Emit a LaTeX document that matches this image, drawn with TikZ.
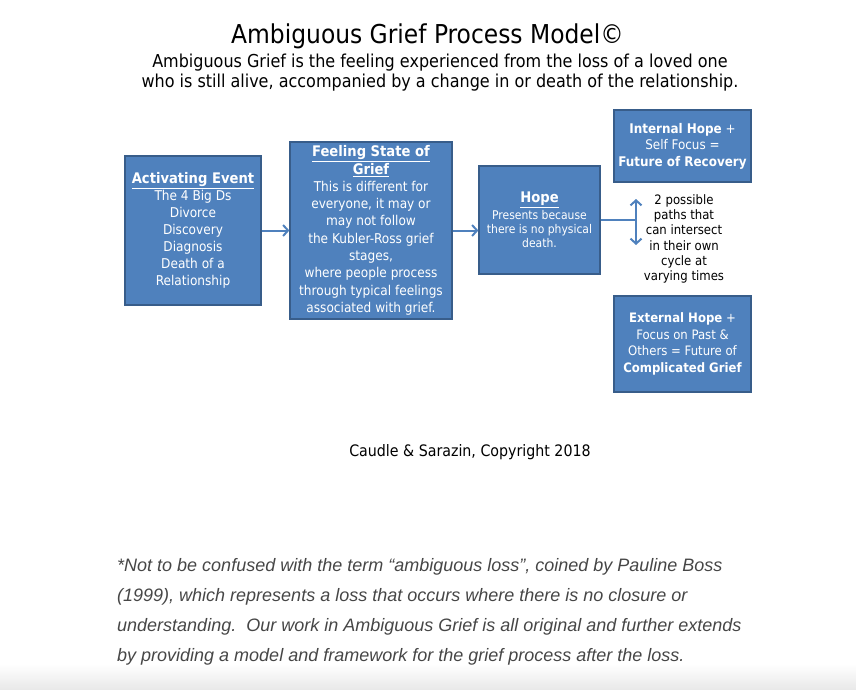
\documentclass[tikz,border=0pt]{standalone}
\usepackage{fontspec}
\setmainfont{DejaVu Sans Condensed}
\newfontfamily\notefont{Liberation Sans}
\usetikzlibrary{arrows.meta,positioning}
\definecolor{boxblue}{RGB}{79,129,189}
\definecolor{boxedge}{RGB}{56,93,138}
\definecolor{notegray}{RGB}{70,70,70}
\tikzset{
  gbox/.style={draw=boxedge, line width=1.2pt, fill=boxblue, text=white, align=center, inner sep=1pt},
  garrow/.style={draw=boxblue, line width=2pt, -{Straight Barb[length=5pt,width=11pt]}},
  boxtxt/.style={font=\fontsize{13.5}{17}\selectfont},
}
\newcommand{\hd}[1]{{\fontsize{14.6}{17}\selectfont\bfseries\underline{#1}}}

\begin{document}
\begin{tikzpicture}[x=1pt, y=-1pt]
\useasboundingbox (0,0) rectangle (856,690);
\shade[top color=white, bottom color=black!9] (0,664) rectangle (856,690);

%----- titolo -----
\node[font=\fontsize{26}{30}\selectfont] (title) at (427.5,36) {Ambiguous Grief Process Model\textcopyright};
\node[font=\fontsize{17.8}{20}\selectfont, align=center] (sub) at (440,73)
  {Ambiguous Grief is the feeling experienced from the loss of a loved one\\
   who is still alive, accompanied by a change in or death of the relationship.};

%----- riquadri -----
\node[gbox, boxtxt, minimum width=136pt, minimum height=149pt] (act) at (193,230.5)
  {\hd{Activating Event}\\The 4 Big Ds\\Divorce\\Discovery\\Diagnosis\\Death of a\\Relationship};
\node[gbox, font=\fontsize{13.5}{17.3}\selectfont, minimum width=162pt, minimum height=177pt] (feel) at (371,230.5)
  {\hd{Feeling State of}\\\hd{Grief}\\This is different for\\everyone, it may or\\may not follow\\the Kubler-Ross grief\\stages,\\where people process\\through typical feelings\\associated with grief.};
\node[gbox, minimum width=121pt, minimum height=108pt, font=\fontsize{12}{14.3}\selectfont] (hope) at (539.5,220)
  {\hd{Hope}\\[2.5pt]Presents because\\there is no physical\\death.};
\node[gbox, minimum width=137pt, minimum height=72pt, font=\fontsize{13.3}{16.5}\selectfont] (intern) at (682.5,146)
  {\textbf{Internal Hope} +\\Self Focus =\\\textbf{Future of Recovery}};
\node[gbox, minimum width=137pt, minimum height=96pt, font=\fontsize{13}{16.7}\selectfont] (extern) at (682.5,344)
  {\textbf{External Hope} +\\Focus on Past \&\\Others = Future of\\\textbf{Complicated Grief}};

% testo fra i due esiti
\node[align=center, font=\fontsize{13}{15.2}\selectfont] (paths) at (684,239)
  {2 possible\\paths that\\can intersect\\in their own\\cycle at\\varying times};

%----- frecce -----
\draw[garrow] (act) -- (feel);
\draw[garrow] (feel.east) -- (feel.east -| hope.west);
\coordinate (fork) at (636,220);
\coordinate (forkup) at (636,199);
\coordinate (forkdn) at (636,245);
\draw[draw=boxblue, line width=2pt] (hope.east) -- (fork);
\draw[garrow, {Straight Barb[length=5pt,width=11pt]}-{Straight Barb[length=5pt,width=11pt]}] (forkup) -- (forkdn);

%----- crediti e nota -----
\node[font=\fontsize{15.8}{18}\selectfont] (credit) at (470,452) {Caudle \& Sarazin, Copyright 2018};
\node[anchor=north west, align=left, text=notegray, font=\notefont\itshape\fontsize{18}{30}\selectfont, inner sep=0pt] (note) at (117,558)
  {*Not to be confused with the term “ambiguous loss”, coined by Pauline Boss\\
   (1999), which represents a loss that occurs where there is no closure or\\
   understanding.\ \ Our work in Ambiguous Grief is all original and further extends\\
   by providing a model and framework for the grief process after the loss.};
\end{tikzpicture}
\end{document}
